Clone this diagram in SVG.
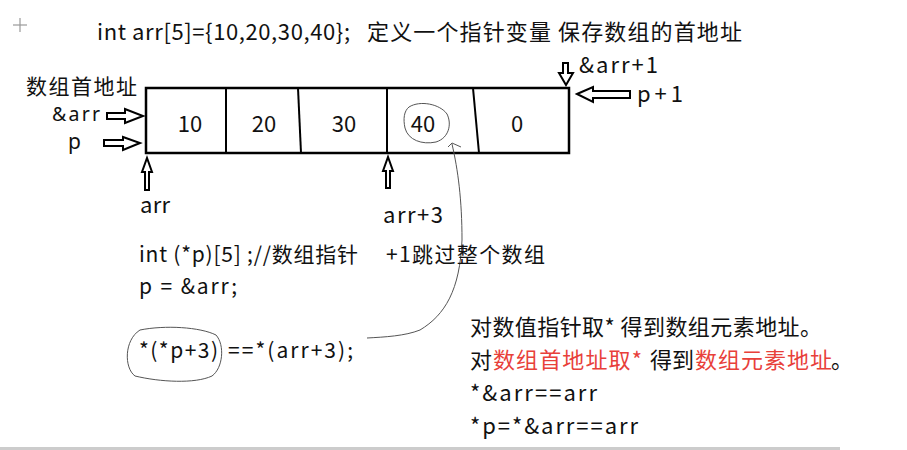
<svg xmlns="http://www.w3.org/2000/svg" width="907" height="450" viewBox="0 0 907 450">
<style>
text{font-family:"Noto Sans CJK SC","Noto Sans",sans-serif;fill:#111;}
.t{font-size:22px;}
.lat{font-family:"Noto Sans",sans-serif;}
.n{font-size:22px;}
.c{font-size:21px;}
.red{fill:#e8403a;}
.box{fill:none;stroke:#000;stroke-width:2.5;}
.div{stroke:#000;stroke-width:2;}
.arrow{fill:#fff;stroke:#000;stroke-width:2;stroke-linejoin:miter;}
.hand{fill:none;stroke:#555;stroke-width:1;}
</style>
<rect width="907" height="450" fill="#fff"/>
<g id="cursor" stroke="#999" stroke-width="1.2">
<line x1="13" y1="25" x2="27" y2="25"/>
<line x1="20" y1="18" x2="20" y2="32"/>
</g>
<g id="title">
<text class="t" x="97" y="40" textLength="253" lengthAdjust="spacing">int arr[5]={10,20,30,40};</text>
<text class="t" x="367" y="40" textLength="375" lengthAdjust="spacing">定义一个指针变量 保存数组的首地址</text>
</g>
<g id="array">
<rect class="box" x="146" y="88" width="423" height="65"/>
<line class="div" x1="226" y1="88" x2="226" y2="153"/>
<line class="div" x1="298" y1="88" x2="301" y2="153"/>
<line class="div" x1="387" y1="88" x2="387" y2="153"/>
<line class="div" x1="473" y1="88" x2="479" y2="153"/>
<text class="n" x="190" y="132" text-anchor="middle">10</text>
<text class="n" x="264" y="132" text-anchor="middle">20</text>
<text class="n" x="344" y="132" text-anchor="middle">30</text>
<text class="n" x="423" y="132" text-anchor="middle">40</text>
<text class="n" x="517" y="132" text-anchor="middle">0</text>
</g>
<g id="labels">
<text class="c" x="26" y="94" textLength="111" lengthAdjust="spacing">数组首地址</text>
<text class="lat" x="52" y="121" font-size="19.5" textLength="48" lengthAdjust="spacing">&amp;arr</text>
<text class="lat" x="68" y="149" font-size="21">p</text>
<text class="t" x="140" y="213" textLength="30" lengthAdjust="spacing">arr</text>
<text class="t" x="383" y="223" textLength="60" lengthAdjust="spacing">arr+3</text>
<text class="t" x="579" y="73" textLength="79" lengthAdjust="spacing">&amp;arr+1</text>
<text class="t" x="637" y="102" textLength="46" lengthAdjust="spacing">p+1</text>
</g>
<g id="connectors">
<path class="arrow" d="M107,113 L125,113 L125,109 L143,116 L125,123 L125,119 L107,119 Z"/>
<path class="arrow" d="M104,140 L123,140 L123,137 L140,143 L123,150 L123,146 L104,146 Z"/>
<path class="arrow" d="M145,190 L145,172 L142,172 L147,158 L152,172 L149,172 L149,190 Z"/>
<path class="arrow" d="M386,188 L386,171 L383,171 L388,157 L393,171 L390,171 L390,188 Z"/>
<path class="arrow" d="M563,63 L568,63 L568,73 L573,73 L566,85 L559,73 L563,73 Z"/>
<path class="arrow" d="M577,94 L593,87 L593,91 L630,91 L630,98 L593,98 L593,102 Z"/>
<path class="hand" d="M409,107 C420,100 440,104 447,114 C452,124 449,138 436,142 C422,145 408,140 405,128 C403,119 404,111 409,107"/>
<path class="hand" d="M448,147 L452,143 L461,147 M452,144 C458,170 462,200 462,240 C460,290 445,315 420,330 C405,336 385,337 367,338"/>
<path class="hand" d="M140,330 C165,325 200,327 216,335 C225,345 223,368 212,376 C195,384 160,382 135,376 C124,368 124,340 140,330"/>
</g>
<g id="code">
<text class="c" x="139" y="262" textLength="219" lengthAdjust="spacing">int (*p)[5] ;//数组指针</text>
<text class="c" x="386" y="262" textLength="159" lengthAdjust="spacing">+1跳过整个数组</text>
<text class="c" x="139" y="294" textLength="98" lengthAdjust="spacing">p = &amp;arr;</text>
<text class="c" x="139" y="358" textLength="79" lengthAdjust="spacing">*(*p+3)</text>
<text class="c" x="228" y="358" textLength="125" lengthAdjust="spacing">==*(arr+3);</text>
</g>
<g id="notes">
<text class="t" x="470" y="335" textLength="352" lengthAdjust="spacing">对数值指针取* 得到数组元素地址。</text>
<text class="t" x="470" y="368">对</text>
<text class="t red" x="493" y="368" textLength="149" lengthAdjust="spacing">数组首地址取*</text>
<text class="t" x="650" y="368" textLength="44" lengthAdjust="spacing">得到</text>
<text class="t red" x="695" y="368" textLength="137" lengthAdjust="spacing">数组元素地址</text>
<text class="t" x="831" y="368">。</text>
<text class="t" x="470" y="401" textLength="127" lengthAdjust="spacing">*&amp;arr==arr</text>
<text class="t" x="470" y="434" textLength="168" lengthAdjust="spacing">*p=*&amp;arr==arr</text>
</g>
<rect x="0" y="447" width="840" height="3" fill="#ccc"/>
</svg>
